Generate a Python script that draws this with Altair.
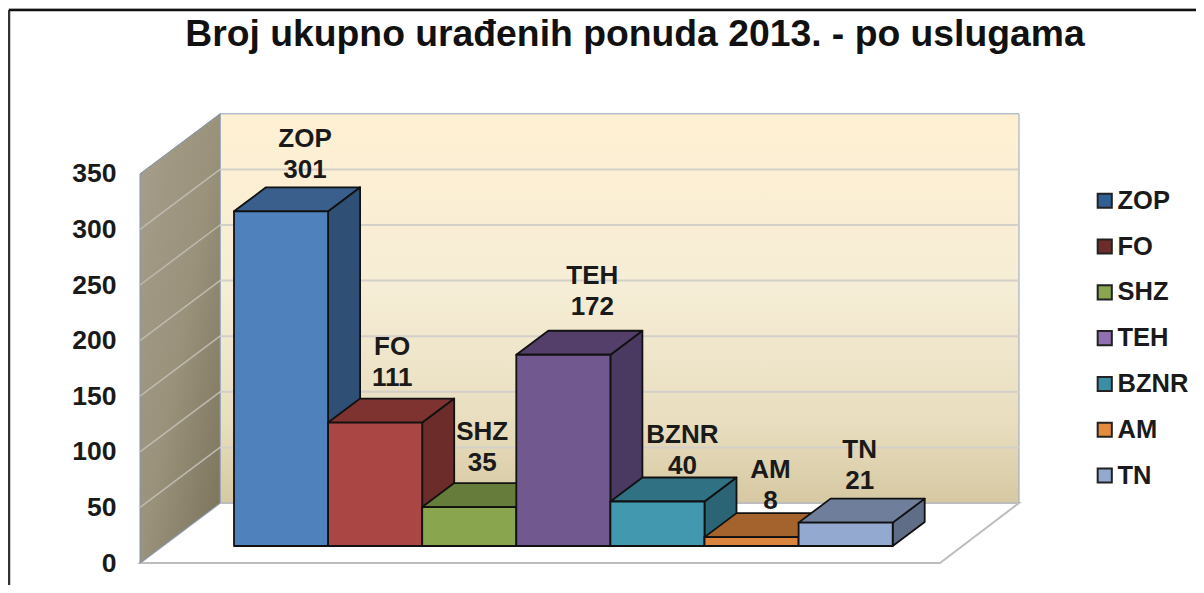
import altair as alt
import pandas as pd

categories = ["ZOP", "FO", "SHZ", "TEH", "BZNR", "AM", "TN"]
values = [301, 111, 35, 172, 40, 8, 21]
front_colors = ["#4F81BD", "#AA4643", "#89A54E", "#71588F", "#4198AF", "#DB843D", "#93A9CF"]
top_colors = ["#3A5F8D", "#7F3331", "#667C3A", "#543F6B", "#307183", "#A4622D", "#6E7E9B"]
side_colors = ["#2F4F75", "#6B2C2A", "#55672F", "#4A3960", "#2A6475", "#8A5226", "#5F6D86"]
legend_colors = ["#2F5F95", "#6B2C2A", "#89A54E", "#9070B0", "#3A8FA8", "#E58B3C", "#93A9CF"]
axis_ticks = [0, 50, 100, 150, 200, 250, 300, 350]
title_text = "Broj ukupno urađenih ponuda 2013. - po uslugama"

W, H = 1188, 577
PX = 1.112           # pixels per value unit
WALL_X0, WALL_X1, WALL_Y0 = 132, 212, 555   # floor corner in plot pixels
DEPTH_X, DEPTH_Y = 80, 60
FLOOR_RIGHT = 932
BAR_X0, BAR_W, BAR_Y0 = 226, 94.1, 538
BAR_DX, BAR_DY = 32, 24

def yv(py):
    """plot pixel row -> value on y scale"""
    return (WALL_Y0 - py) / PX

X = alt.Scale(domain=[0, W], range=[0, W])
Y = alt.Scale(domain=[yv(H), yv(0)], range=[H, 0])
y_axis = alt.Axis(values=axis_ticks, domain=False, ticks=False, grid=False, title=None,
                  labelFont="Liberation Sans", labelFontWeight="bold", labelFontSize=26.5,
                  labelColor="#1a1a1a", offset=-108, labelPadding=0, zindex=1)
x_enc = lambda f="x": alt.X(f"{f}:Q", scale=X, axis=None)
y_enc = lambda f="y": alt.Y(f"{f}:Q", scale=Y, axis=y_axis)

def grad(stops, **kw):
    return alt.LinearGradient(gradient="linear",
                              stops=[alt.GradientStop(color=c, offset=o) for c, o in stops], **kw)

layers = []

# back wall
wall_grad = grad([("#FFF0D2", 0), ("#F6EDD6", 0.45), ("#E8DDBE", 0.8), ("#D6C8A2", 1)], x1=0, x2=0, y1=0, y2=1)
back = pd.DataFrame({"x": [WALL_X1], "x2": [1011], "y": [yv(WALL_Y0 - DEPTH_Y)], "y2": [yv(WALL_Y0 - DEPTH_Y) + 350]})
layers.append(alt.Chart(back).mark_rect(fill=wall_grad, stroke="#8FA6C2", strokeWidth=1).encode(
    x=x_enc(), x2="x2:Q", y=y_enc(), y2="y2:Q"))

# floor
floor = pd.DataFrame({"y": [yv(WALL_Y0), yv(WALL_Y0 - DEPTH_Y)],
                      "x": [WALL_X0, WALL_X1], "x2": [FLOOR_RIGHT, 1011]})
layers.append(alt.Chart(floor).mark_area(orient="horizontal", fill="#FFFFFF", stroke="#BDBDBD", strokeWidth=2).encode(
    y=y_enc(), x=x_enc(), x2="x2:Q"))

# left wall
left_grad = grad([("#A69D8B", 0), ("#9B927C", 0.5), ("#7A7159", 1)], x1=0, x2=1, y1=0, y2=1)
lw = pd.DataFrame({"x": [WALL_X0, WALL_X1],
                   "y": [350.0, 350.0 + DEPTH_Y / PX], "y2": [0.0, DEPTH_Y / PX]})
layers.append(alt.Chart(lw).mark_area(fill=left_grad, stroke="#7F93AD", strokeWidth=1).encode(
    x=x_enc(), y=y_enc(), y2="y2:Q"))

# gridlines on both walls
g_back = pd.DataFrame({"y": [t + DEPTH_Y / PX for t in axis_ticks[1:-1]], "x": [WALL_X1] * 6, "x2": [1011] * 6})
layers.append(alt.Chart(g_back).mark_rule(color="#D3CFC9", strokeWidth=2).encode(
    x=x_enc(), x2="x2:Q", y=y_enc()))
g_left = pd.DataFrame([{"x": px, "y": t + d, "t": t}
                       for t in axis_ticks[1:-1]
                       for px, d in ((WALL_X0, 0), (WALL_X1, DEPTH_Y / PX))])
layers.append(alt.Chart(g_left).mark_line(color="#BDBAB0", strokeWidth=1.5).encode(
    x=x_enc(), y=y_enc(), detail="t:N"))

# bars, painted left to right
base = yv(BAR_Y0)
dv = BAR_DY / PX
color_scale = alt.Scale(domain=categories, range=legend_colors)
edge = dict(stroke="#111111", strokeWidth=1.8, strokeJoin="round")
for i, (c, v) in enumerate(zip(categories, values)):
    xl = BAR_X0 + i * BAR_W
    xr = xl + BAR_W
    side = pd.DataFrame({"x": [xr, xr + BAR_DX], "y": [base + v, base + v + dv], "y2": [base, base + dv]})
    layers.append(alt.Chart(side).mark_area(fill=side_colors[i], **edge).encode(
        x=x_enc(), y=y_enc(), y2="y2:Q"))
    top = pd.DataFrame({"y": [base + v, base + v + dv], "x": [xl, xl + BAR_DX], "x2": [xr, xr + BAR_DX]})
    layers.append(alt.Chart(top).mark_area(orient="horizontal", fill=top_colors[i], **edge).encode(
        y=y_enc(), x=x_enc(), x2="x2:Q"))
    front = pd.DataFrame({"x": [xl], "x2": [xr], "y": [base + v], "y2": [base], "series": [c]})
    layers.append(alt.Chart(front).mark_rect(fill=front_colors[i], **edge).encode(
        x=x_enc(), x2="x2:Q", y=y_enc(), y2="y2:Q"))

# legend from an invisible layer so that swatches can keep their own tones
leg = pd.DataFrame({"series": categories, "x": [0] * 7, "y": [yv(0)] * 7})
layers.append(alt.Chart(leg).mark_point(opacity=0, shape="square", filled=True).encode(
    x=x_enc(), y=y_enc(),
    color=alt.Color("series:N", scale=color_scale, sort=categories, legend=alt.Legend(
        title=None, orient="none", legendX=1084, legendY=180, symbolType="square", symbolSize=200,
        symbolOpacity=1, symbolStrokeColor="#222222", symbolStrokeWidth=2,
        labelFont="Liberation Sans", labelFontWeight="bold", labelFontSize=25.5, labelColor="#1a1a1a",
        labelOffset=0, rowPadding=18.8, labelLimit=200))))

# data labels (name over value); nudges follow the hand placed labels in the picture
nudge = [(8, -17), (1, -21), (-3, -20), (13, -24), (9, -12), (3, -12), (-2, -18)]
rows = []
for i, (c, v) in enumerate(zip(categories, values)):
    cx = BAR_X0 + i * BAR_W + BAR_W / 2 + BAR_DX / 2 + nudge[i][0]
    vy = base + v + dv - nudge[i][1] / PX
    rows.append({"x": cx, "y": vy, "t": str(v)})
    rows.append({"x": cx, "y": vy + 31 / PX, "t": c})
layers.append(alt.Chart(pd.DataFrame(rows)).mark_text(
    font="Liberation Sans", fontWeight="bold", fontSize=26, color="#1a1a1a", baseline="middle").encode(
    x=x_enc(), y=y_enc(), text="t:N"))

# screenshot frame
layers.append(alt.Chart(pd.DataFrame({"x": [1], "y": [yv(2)], "y2": [yv(H)]})).mark_rule(color="#333333", strokeWidth=2.5).encode(
    x=x_enc(), y=y_enc(), y2="y2:Q"))
layers.append(alt.Chart(pd.DataFrame({"x": [1], "x2": [W], "y": [yv(2)]})).mark_rule(color="#111111", strokeWidth=2.5).encode(
    x=x_enc(), x2="x2:Q", y=y_enc()))

chart = alt.layer(*layers).properties(
    width=W, height=H, padding=0, autosize=alt.AutoSizeParams(type="none"),
    title=alt.TitleParams(title_text, font="Liberation Sans", fontWeight="bold", fontSize=37.3,
                          color="#111111", anchor="middle", dx=33, dy=78, offset=0, baseline="alphabetic")
).configure_view(stroke=None).configure(background="#FFFFFF")

chart.save("out.html", embed_options={"renderer": "svg", "actions": False})
